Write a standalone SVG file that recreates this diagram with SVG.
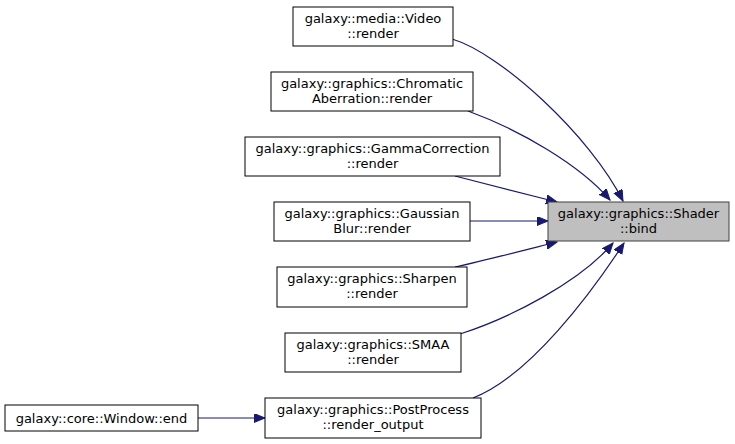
<svg xmlns="http://www.w3.org/2000/svg" width="735" height="444" viewBox="0 0 735 444">
<style>
.n rect{fill:#ffffff;stroke:#000000;stroke-width:1}
.n.hl rect{fill:#bfbfbf;stroke:#404040}
.n text{font-family:"DejaVu Sans",sans-serif;font-size:13px;fill:#000000;text-anchor:middle}
.e path{fill:none;stroke:#191970;stroke-width:1.2;marker-end:url(#ah)}
</style>
<defs>
<marker id="ah" markerUnits="userSpaceOnUse" markerWidth="12" markerHeight="10" refX="11" refY="4.5" orient="auto">
<path d="M0,0 L11,4.5 L0,9 Z" fill="#191970" stroke="#191970" stroke-width="1"/>
</marker>
</defs>
<rect width="735" height="444" fill="#ffffff"/>
<g id="edges" class="e">
<path d="M452,39 C500,53 590,135 623,201"/>
<path d="M468,111 C520,130 580,165 610,200"/>
<path d="M455,176 C490,185 525,194 557,202"/>
<path d="M470,221 L548,221"/>
<path d="M455,267 C490,259 525,250 557,242"/>
<path d="M460,334 C510,318 580,282 613,243"/>
<path d="M473,398 C530,376 592,292 624,243"/>
<path d="M198,418 L265,418"/>
</g>
<g id="node_bind" class="n hl"><rect x="548" y="202" width="181" height="39"/><text x="638.5" y="217.5">galaxy::graphics::Shader</text><text x="638.5" y="232.5">::bind</text></g>
<g id="node_video" class="n"><rect x="293" y="7" width="160" height="39"/><text x="373" y="22.5">galaxy::media::Video</text><text x="373" y="37.5">::render</text></g>
<g id="node_chromatic" class="n"><rect x="271" y="72" width="202" height="39"/><text x="372" y="87.5">galaxy::graphics::Chromatic</text><text x="372" y="102.5">Aberration::render</text></g>
<g id="node_gamma" class="n"><rect x="245" y="137" width="255" height="39"/><text x="372.5" y="152.5">galaxy::graphics::GammaCorrection</text><text x="372.5" y="167.5">::render</text></g>
<g id="node_gaussian" class="n"><rect x="274" y="202" width="196" height="39"/><text x="372" y="217.5">galaxy::graphics::Gaussian</text><text x="372" y="232.5">Blur::render</text></g>
<g id="node_sharpen" class="n"><rect x="277" y="267" width="190" height="40"/><text x="372" y="283">galaxy::graphics::Sharpen</text><text x="372" y="298">::render</text></g>
<g id="node_smaa" class="n"><rect x="285" y="333" width="176" height="39"/><text x="373" y="348.5">galaxy::graphics::SMAA</text><text x="373" y="363.5">::render</text></g>
<g id="node_postprocess" class="n"><rect x="265" y="398" width="216" height="40"/><text x="373" y="414">galaxy::graphics::PostProcess</text><text x="373" y="429">::render_output</text></g>
<g id="node_window" class="n"><rect x="5" y="405" width="193" height="26"/><text x="101.5" y="422.5">galaxy::core::Window::end</text></g>
</svg>
